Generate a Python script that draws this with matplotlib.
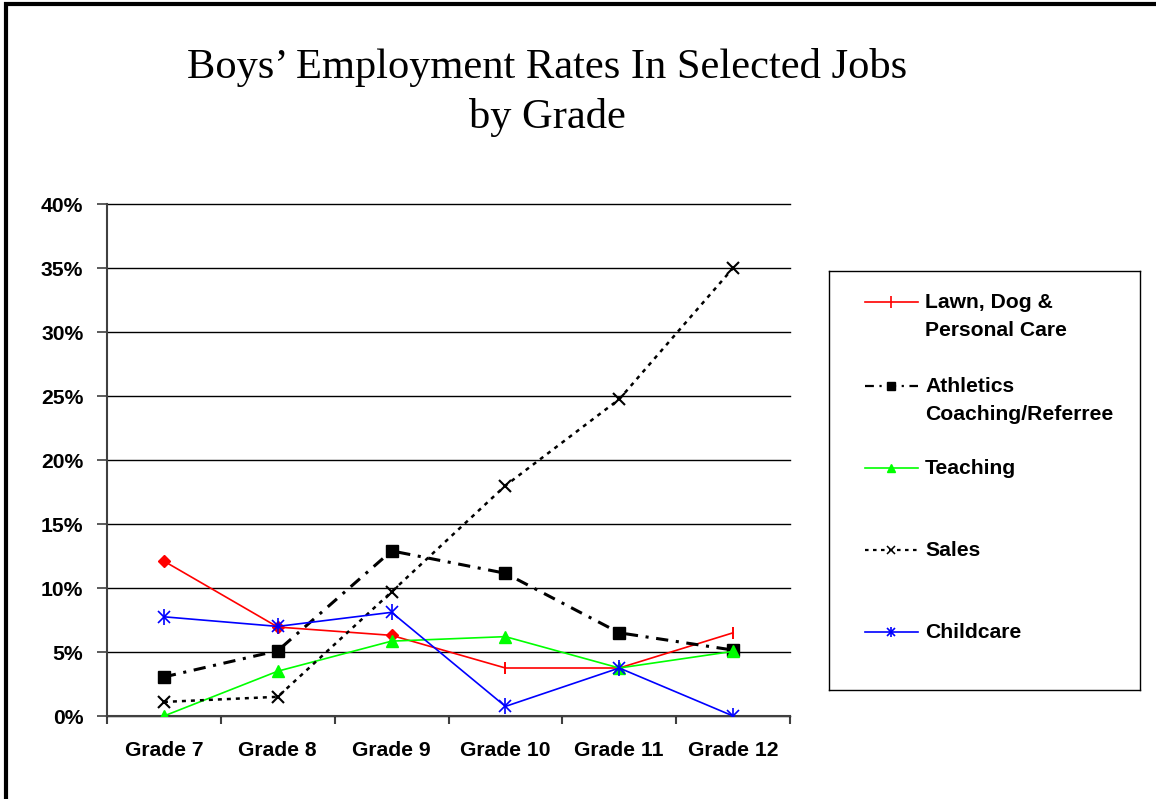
import matplotlib
matplotlib.use("Agg")
import matplotlib.pyplot as plt
from matplotlib import font_manager as fm
from matplotlib.lines import Line2D

# ---- data -------------------------------------------------------------
grades = ["Grade 7", "Grade 8", "Grade 9", "Grade 10", "Grade 11", "Grade 12"]
lawn_care = [12.1, 6.95, 6.3, 3.75, 3.75, 6.5]
athletics = [3.05, 5.1, 12.9, 11.15, 6.5, 5.15]
teaching = [0.0, 3.5, 5.85, 6.2, 3.75, 5.05]
sales = [1.1, 1.5, 9.7, 18.0, 24.75, 35.0]
childcare = [7.75, 7.0, 8.1, 0.75, 3.75, 0.0]
pct_ticks = [0, 5, 10, 15, 20, 25, 30, 35, 40]
series_labels = ["Lawn, Dog &\nPersonal Care", "Athletics\nCoaching/Referree",
                 "Teaching", "Sales", "Childcare"]

# ---- fonts ------------------------------------------------------------
installed = {f.name for f in fm.fontManager.ttflist}
if "Liberation Sans Narrow" in installed:
    sans, lab_size = "Liberation Sans Narrow", 17.6
else:
    sans, lab_size = "Liberation Sans", 15.2
serif = "Liberation Serif"

W, H = 1156, 799
fig = plt.figure(figsize=(W / 100, H / 100), dpi=100)
fig.patch.set_facecolor("white")


def fx(px):
    return px / W


def fy(py):
    return 1 - py / H


# ---- main axes --------------------------------------------------------
ax = fig.add_axes([fx(107), fy(716), fx(790 - 107), (716 - 204) / H])
x = list(range(len(grades)))

styles = [
    dict(color="#ff0000", lw=1.2),
    dict(color="black", lw=2.2, dashes=(4, 2.5, 1, 2.5)),
    dict(color="#00ff00", lw=1.2),
    dict(color="black", lw=1.8, dashes=(1.6, 2.0)),
    dict(color="#0000ff", lw=1.2),
]
all_series = [lawn_care, athletics, teaching, sales, childcare]


def draw_markers(target, xs, ys, idx, small=False):
    """Series symbols; `small` gives the reduced legend versions."""
    k = 0.7 if small else 1.0
    z = 3 + idx
    if idx == 0:
        if small:
            target.plot(xs, ys, ls="none", marker="|", ms=9, mec="#ff0000",
                        mew=1.2, zorder=z)
        else:
            # diamonds on the first three points, end ticks on the rest
            target.plot(xs[:3], ys[:3], ls="none", marker="D", ms=6,
                        mfc="#ff0000", mec="#ff0000", zorder=z)
            target.plot(xs[3:], ys[3:], ls="none", marker="|", ms=9,
                        mec="#ff0000", mew=1.4, zorder=z)
    elif idx == 1:
        target.plot(xs, ys, ls="none", marker="s", ms=8 * k, mfc="black",
                    mec="black", zorder=z)
    elif idx == 2:
        target.plot(xs, ys, ls="none", marker="^", ms=8 * k, mfc="#00ff00",
                    mec="#00ff00", zorder=z)
    elif idx == 3:
        target.plot(xs, ys, ls="none", marker="x", ms=9 * k, mec="black",
                    mew=1.3 * k + 0.2, zorder=z)
    else:
        target.plot(xs, ys, ls="none", marker="x", ms=8 * k, mec="#0000ff",
                    mew=1.2, zorder=z)
        target.plot(xs, ys, ls="none", marker="|", ms=11 * k, mec="#0000ff",
                    mew=1.2, zorder=z)


for i, (vals, st) in enumerate(zip(all_series, styles)):
    ax.plot(x, vals, **st, zorder=3 + i)
    draw_markers(ax, x, vals, i)

ax.set_xlim(-0.5, len(grades) - 0.5)
ax.set_ylim(0, 40)
ax.set_yticks(pct_ticks)
ax.set_yticklabels([f"{v}%" for v in pct_ticks])
ax.yaxis.grid(True, color="black", lw=1.0)
for gl in ax.yaxis.get_gridlines():
    gl.set_clip_on(False)
ax.set_axisbelow(True)

ax.set_xticks(x)
ax.set_xticklabels(grades)
ax.set_xticks([i - 0.5 for i in range(len(grades) + 1)], minor=True)
ax.tick_params(axis="x", which="major", length=0, pad=18)
ax.tick_params(axis="x", which="minor", length=6, width=1.5,
               color="#404040", direction="out")
ax.tick_params(axis="y", length=7, width=1.2, color="#404040", pad=10)

for lbl in ax.get_xticklabels() + ax.get_yticklabels():
    lbl.set_fontfamily(sans)
    lbl.set_fontweight("bold")
    lbl.set_fontsize(lab_size)

for s in ("top", "right"):
    ax.spines[s].set_visible(False)
for s in ("left", "bottom"):
    ax.spines[s].set_color("#404040")
    ax.spines[s].set_linewidth(1.5)

# ---- legend box -------------------------------------------------------
lg = fig.add_axes([fx(829), fy(690), fx(1140 - 829), (690 - 271) / H])
lg.set_xlim(0, 311)
lg.set_ylim(419, 0)
lg.set_xticks([])
lg.set_yticks([])
for s in lg.spines.values():
    s.set_color("black")
    s.set_linewidth(1.0)

row_y = [31, 115, 197, 279, 361]
for i, (ry, st, label) in enumerate(zip(row_y, styles, series_labels)):
    st2 = dict(st)
    st2["lw"] = min(st2["lw"], 1.6)
    lg.add_line(Line2D([36, 89], [ry, ry], **st2))
    draw_markers(lg, [62], [ry], i, small=True)
    for k, line in enumerate(label.split("\n")):
        lg.text(96, ry + 28 * k, line, family=sans, fontsize=lab_size,
                fontweight="bold", ha="left", va="center")
lg.set_xlim(0, 311)
lg.set_ylim(419, 0)

# ---- title ------------------------------------------------------------
fig.text(fx(547), fy(78), "Boys’ Employment Rates In Selected Jobs",
         family=serif, fontsize=30.6, ha="center", va="baseline")
fig.text(fx(547), fy(128), "by Grade",
         family=serif, fontsize=30.6, ha="center", va="baseline")

# ---- page frame -------------------------------------------------------
fig.add_artist(Line2D([fx(6), fx(6)], [0, fy(2)], color="black", lw=3.0,
                      transform=fig.transFigure, solid_capstyle="butt"))
fig.add_artist(Line2D([fx(4), 1], [fy(4), fy(4)], color="black", lw=3.0,
                      transform=fig.transFigure, solid_capstyle="butt"))

fig.savefig("out.png", dpi=100, facecolor="white")
